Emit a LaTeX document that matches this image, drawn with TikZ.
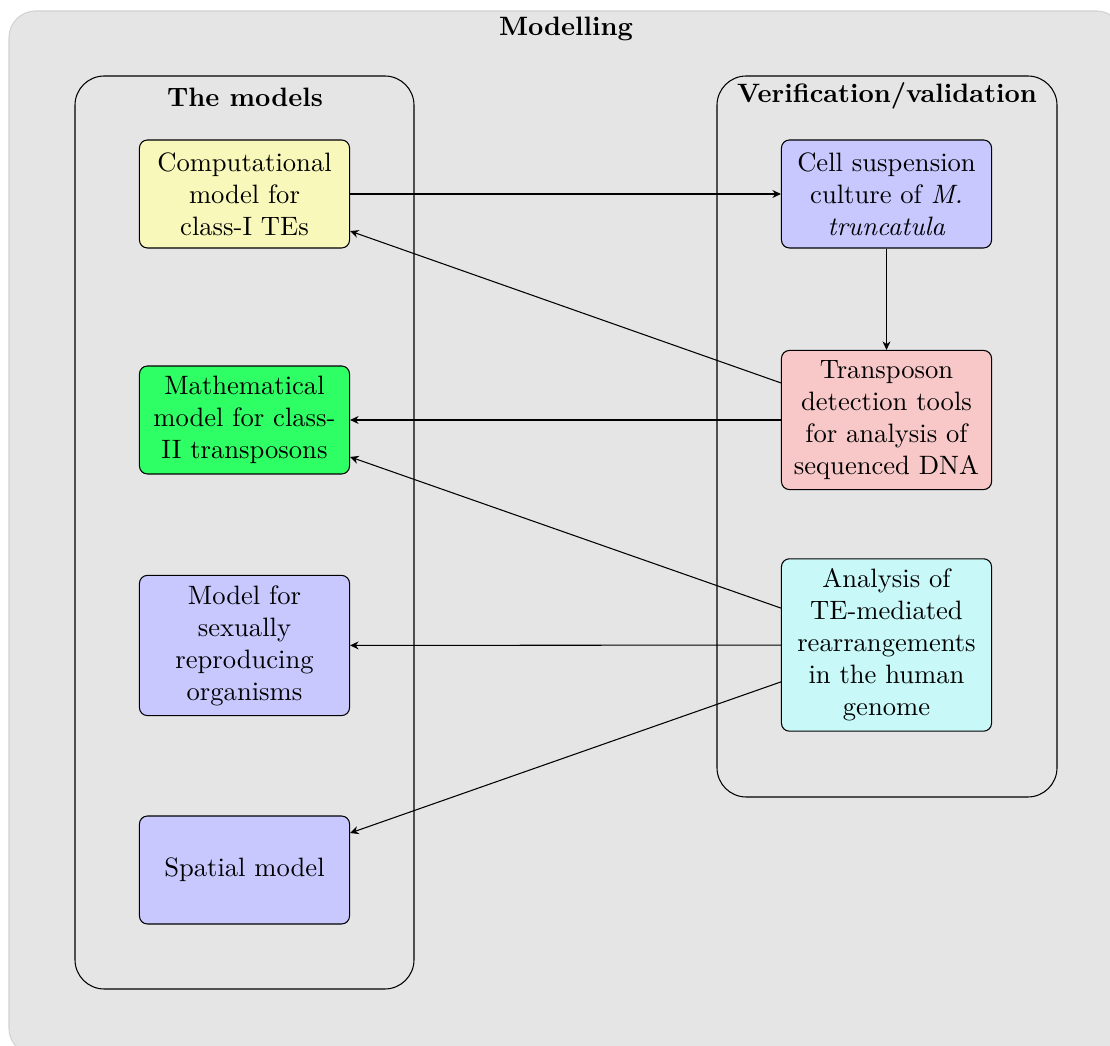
\documentclass[tikz,border=0pt]{standalone}
\usetikzlibrary{arrows.meta}
\definecolor{outerfill}{RGB}{229,229,229}
\definecolor{outerdraw}{RGB}{210,210,210}
\definecolor{cyell}{RGB}{248,248,186}
\definecolor{cgreen}{RGB}{46,255,100}
\definecolor{cblue}{RGB}{200,200,255}
\definecolor{cpink}{RGB}{248,200,200}
\definecolor{ccyan}{RGB}{200,248,248}
\tikzset{
  x=0.376pt, y=-0.376pt,
  box/.style={draw, rounded corners=3pt, text width=70.5pt, align=center,
    inner xsep=4.25pt, inner ysep=3.8pt, minimum height=40.6pt, font=\normalsize},
  container/.style={draw, rounded corners=11pt},
  title/.style={font=\bfseries},
  conn/.style={-{Stealth[length=3.2pt,width=3pt]}, line width=0.4pt},
}
\begin{document}
\begin{tikzpicture}
\useasboundingbox (0,0) rectangle (1110,1046);
\draw[fill=outerfill, draw=outerdraw, rounded corners=10pt] (9,11) rectangle (1123,1055);
\node[title] (modtitle) at (566,29) {Modelling};
\draw[container] (75,76) rectangle (414,989);
\node[title] (lefttitle) at (245,97) {The models};
\draw[container] (717,76) rectangle (1057,797);
\node[title] (righttitle) at (887,96) {Verification/validation};

\node[box, fill=cyell] (comp) at (244.5,194) {Computational model for class-I TEs};
\node[box, fill=cgreen] (math) at (244.5,420) {Mathematical model for class-II transposons};
\node[box, fill=cblue] (sex) at (244.5,645.5) {Model for sexually reproducing organisms};
\node[box, fill=cblue] (spat) at (244.5,870) {Spatial model};

\node[box, fill=cblue] (cell) at (886.5,194) {Cell suspension culture of \textit{M. truncatula}};
\node[box, fill=cpink] (trans) at (886.5,420) {Transposon detection tools for analysis of sequenced DNA};
\node[box, fill=ccyan] (anal) at (886.5,645) {Analysis of TE-mediated rearrangements in the human genome};

\draw[conn] (comp) -- (cell);
\draw[conn] (cell) -- (trans);
\draw[conn] (trans) -- (comp);
\draw[conn] (trans) -- (math);
\draw[conn] (anal) -- (math);
\draw[conn] (anal) -- (sex);
\draw[conn] (anal) -- (spat);
\end{tikzpicture}
\end{document}
